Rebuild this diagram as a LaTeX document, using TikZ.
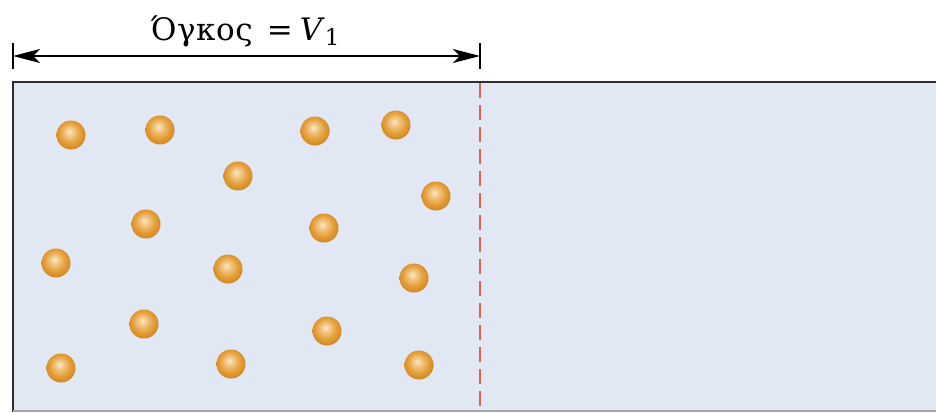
\documentclass[tikz,border=0pt]{standalone}
\usepackage{fontspec}
\setmainfont{DejaVu Serif}
\newfontfamily\volfont[LetterSpace=2]{DejaVu Serif}
\usetikzlibrary{arrows.meta,positioning}
\definecolor{gasfill}{RGB}{225,231,243}
\definecolor{wallgray}{RGB}{45,45,45}
\definecolor{ballhl}{RGB}{252,232,200}
\definecolor{ballmid}{RGB}{230,162,62}
\definecolor{balledge}{RGB}{204,128,22}
\definecolor{pistonred}{RGB}{226,96,80}
\pgfdeclareradialshading{molball}{\pgfqpoint{-3bp}{6bp}}{%
  color(0bp)=(ballhl); color(6bp)=(ballhl!60!ballmid); color(17bp)=(ballmid);
  color(30bp)=(balledge); color(50bp)=(balledge)}
\tikzset{
  px/.style={x=1pt, y=-1pt},
  g wall/.style={draw=wallgray, line width=2pt},
  g gas/.style={fill=gasfill},
  g ball/.style={circle, minimum size=29pt, inner sep=0pt, shading=molball},
  g split/.style={draw=pistonred, line width=2pt, dash pattern=on 15pt off 7pt},
  g dim/.style={{Stealth[length=27pt, width=14pt, inset=7pt]}-{Stealth[length=27pt, width=14pt, inset=7pt]}, line width=2pt},
  g tick/.style={line width=1.6pt},
  g label/.style={font=\fontsize{31}{36}\selectfont, inner sep=0pt},
}

\begin{document}
\begin{tikzpicture}[px]
\useasboundingbox (0,0) rectangle (936,412);
% container
\fill[g gas] (13,82) rectangle (936,412);
\draw[g wall] (936,82) -- (13,82) -- (13,412);
\draw[black!35, line width=1.5pt] (13,411.2) -- (936,411.2);
% dividing line
\coordinate (sTop) at (480,83);
\coordinate (sBot) at (480,412);
\draw[g split] (sTop) -- (sBot);
% molecules
\foreach \n/\bx/\by in {1/71/135, 2/160/130, 3/315/131, 4/396/125, 5/238/176, 6/436/196,
  7/146/224, 8/324/228, 9/56/263, 10/228/269, 11/414/278, 12/144/324, 13/327/331,
  14/61/368, 15/231/364, 16/419/365}
  \node[g ball] (m\n) at (\bx,\by) {};
% volume V1
\coordinate (dL) at (13,56);
\coordinate (dR) at (480,56);
\draw[g tick] (13,43) -- (13,69);
\draw[g tick] (480,43) -- (480,69);
\draw[g dim] (dL) -- (dR);
\node[g label] (vol) at (245,31) {{\volfont Όγκος}\hspace{14pt}=\hspace{7pt}\textit{V}\raisebox{-5pt}{\fontsize{23}{23}\selectfont 1}};
\end{tikzpicture}
\end{document}
